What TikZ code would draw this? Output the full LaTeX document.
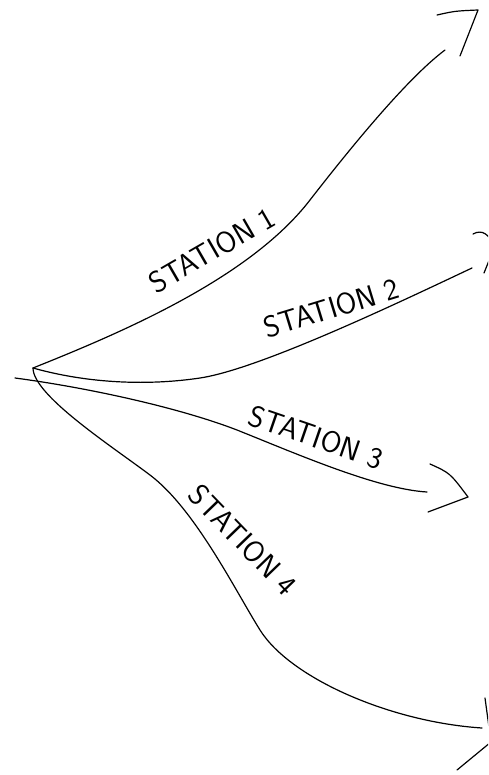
\documentclass[tikz,border=0pt]{standalone}
\usepackage{tikz}
\usetikzlibrary{calc}

\begin{document}
\begin{tikzpicture}
      [x = 1pt, y = -1pt,
      route/.style = {
         line width = 1.2pt,
         line cap = round
      },
      chevron/.style = {
         line width = 1.2pt,
         line cap = round,
         line join = round
      },
      station/.style = {
         font = \sffamily\fontsize{30}{30}\selectfont,
         inner sep = 0pt
      }]
      \clip (0, 0) rectangle (488, 775);

      \coordinate (start) at (33, 368);
      \coordinate (left) at (15, 378);
      \coordinate (end1) at (445, 50);
      \coordinate (end2) at (472, 268);
      \coordinate (end3) at (427, 492);
      \coordinate (end4) at (482, 728);

      % routes
      \draw[route] (start) .. controls (123, 332) and (250, 278) .. (310, 200)
         .. controls (345, 155) and (405, 80) .. (end1);
      \draw[route] (start) .. controls (90, 384) and (150, 385.5) .. (200, 378)
         .. controls (260, 369) and (402, 301) .. (end2);
      \draw[route] (left) .. controls (90, 388) and (180, 408) .. (237, 430)
         .. controls (297, 454) and (377, 489) .. (end3);
      \draw[route] (start) .. controls (33, 395) and (110, 445) .. (150, 475)
         .. controls (195, 509) and (235, 590) .. (260, 630)
         .. controls (290, 678) and (390, 722) .. (end4);

      % arrow heads
      \draw[chevron] (437, 15) .. controls (455, 11) .. (478, 10) -- (460, 56);
      \draw[chevron] (473, 234) .. controls (482, 229) and (490, 234) .. (494, 248)
         -- (484, 273);
      \draw[chevron] (430, 464) .. controls (450, 473) .. (468, 497) -- (428, 512);
      \draw[chevron] (485, 698) -- (491, 742) -- (457, 770);

      % labels
      \node[station, rotate = 30] (s1) at (212, 250) {STATION 1};
      \node[station, rotate = 17] (s2) at (331, 308) {STATION 2};
      \node[station, rotate = -19] (s3) at (316, 437) {STATION 3};
      \node[station, rotate = -46] (s4) at (243, 540) {STATION 4};
   \end{tikzpicture}
\end{document}
